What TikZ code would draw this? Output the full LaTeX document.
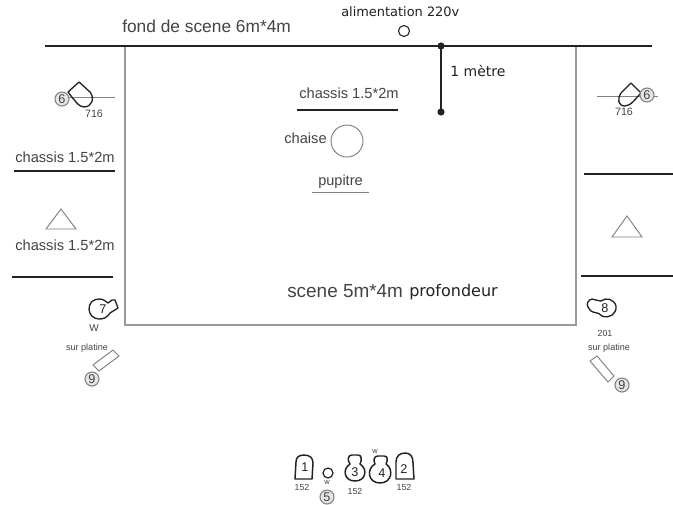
\documentclass[tikz,border=0pt]{standalone}
\usepackage{fontspec}
\setmainfont{Liberation Sans}
\newfontfamily\dejavu{DejaVu Sans}
\definecolor{ink}{HTML}{222222}
\definecolor{soft}{HTML}{444444}
\definecolor{wallgrey}{HTML}{9A9A9A}
\tikzset{
  x=0.75pt,y=-0.75pt,
  label14/.style={inner sep=0pt,text=soft,font=\fontsize{11pt}{13pt}\selectfont},
  labelDV/.style={inner sep=0pt,text=ink,font=\dejavu\fontsize{9.7pt}{11pt}\selectfont},
  tiny/.style={inner sep=0pt,text=soft,font=\fontsize{6.6pt}{7pt}\selectfont},
  sixteen/.style={inner sep=0pt,text=soft,font=\fontsize{8pt}{9pt}\selectfont},
  micro/.style={inner sep=0pt,text=soft,font=\fontsize{6.8pt}{7pt}\selectfont},
  wee/.style={inner sep=0pt,text=soft,font=\fontsize{5.6pt}{6pt}\selectfont},
  num/.style={inner sep=0pt,text=ink,font=\fontsize{9.5pt}{10pt}\selectfont},
  numring/.style={circle,draw=gray,fill=gray!20,line width=0.8pt,minimum size=10.5pt,inner sep=0pt,text=soft,font=\fontsize{9.5pt}{10pt}\selectfont},
  thickbar/.style={draw=ink,line width=1.8pt},
  wall/.style={draw=wallgrey,line width=1.1pt},
  lamp/.style={draw=ink,line width=1pt,line join=round},
  thinline/.style={draw=gray,line width=0.7pt},
  prop/.style={draw=gray,line width=0.7pt,line join=miter},
}
\begin{document}
\begin{tikzpicture}
\useasboundingbox (0,0) rectangle (673,504);
\fill[white] (0,0) rectangle (673,504);
% stage
\draw[wall] (125,46) -- (125,325) -- (576,325) -- (576,46);
\draw[thickbar] (45,46) -- (652,46);
% dimension
\coordinate (dimtop) at (441,46);
\coordinate (dimbot) at (441,112);
\draw[thickbar] (dimtop) -- (dimbot);
\fill[ink] (dimtop) circle (3.6);
\fill[ink] (dimbot) circle (3.6);
\node[labelDV,anchor=west,font=\dejavu\fontsize{10.5pt}{12pt}\selectfont] (unmetre) at (450,71) {1 mètre};
% top texts
\node[label14,anchor=west,font=\fontsize{13pt}{15pt}\selectfont] (fond) at (122,26) {fond de scene 6m*4m};
\node[labelDV,anchor=west] (alim) at (341,12) {alimentation 220v};
\draw[ink,line width=0.8pt] (404,31) circle (5.5);
% centre
\node[label14,anchor=west] (ch0) at (299,93) {chassis 1.5*2m};
\draw[thickbar] (297,110) -- (398,110);
\node[label14,anchor=east] (chaise) at (327,138) {chaise};
\draw[draw=gray,line width=0.7pt] (347,141) circle (16);
\node[label14,anchor=west,font=\fontsize{10.9pt}{12pt}\selectfont] (pupitre) at (318,182) {pupitre};
\draw[thinline] (312,192) -- (369,192);
\node[label14,anchor=west,font=\fontsize{14.2pt}{16pt}\selectfont] (scene) at (287,291) {scene 5m*4m};
\node[labelDV,anchor=west,font=\dejavu\fontsize{12pt}{14pt}\selectfont] (prof) at (409,292) {profondeur};
% left wings
\node[label14,anchor=west] (chl1) at (15,157) {chassis 1.5*2m};
\draw[thickbar] (14,171) -- (115,171);
\draw[prop] (46,229) -- (61,209) -- (76,229) -- cycle;
\node[label14,anchor=west] (chl2) at (15,245) {chassis 1.5*2m};
\draw[thickbar] (12,277) -- (113,277);
% right wings
\draw[thickbar] (584,174) -- (673,174);
\draw[prop] (612,237) -- (627,216) -- (642,237) -- cycle;
\draw[thickbar] (581,276) -- (673,276);
% spot 6 left
\draw[thinline] (55,97) -- (115,97);
\draw[lamp] (68,92) -- (79,82) -- (90,92) .. controls (95,98) and (92,107) .. (84,107) .. controls (79,107) and (75,101) .. (68,92) -- cycle;
\node[numring] (six1) at (62,99) {6};
\node[sixteen] (n716a) at (94,114) {716};
% spot 6 right
\draw[thinline] (597,96) -- (658,96);
\draw[lamp] (641,93) -- (631,83) -- (621,93) .. controls (617,99) and (618,106) .. (625,106) .. controls (631,106) and (636,98) .. (641,93) -- cycle;
\node[numring] (six2) at (647,95) {6};
\node[sixteen] (n716b) at (624,112) {716};
% spot 7
\draw[lamp] (110,313) .. controls (107,318) and (103,319) .. (99,319) .. controls (93,319) and (89,314) .. (89,309) .. controls (89,303) and (93,299) .. (99,299) .. controls (103,299) and (106,301) .. (108,303) -- (112,300) -- (115,300) -- (118,308) -- cycle;
\node[num] (seven) at (103,309) {7};
\node[inner sep=0pt,text=soft,font=\fontsize{7.5pt}{8pt}\selectfont] (w7) at (94,328) {W};
\node[micro] (sp1) at (87,348) {sur platine};
\draw[prop] (113,350) -- (119,356) -- (99,371) -- (93,365) -- cycle;
\node[numring] (nine1) at (92,379) {9};
% spot 8
\draw[lamp] (592,299) .. controls (596,300) and (599,301) .. (601,301) .. controls (606,297) and (614,299) .. (616,306) .. controls (617,314) and (609,319) .. (602,316) .. controls (600,314) and (598,313) .. (597,313) .. controls (591,312) and (589,310) .. (588,307) .. controls (586,304) and (588,300) .. (592,299) -- cycle;
\node[num] (eight) at (605,308) {8};
\node[tiny] (n201) at (605,333) {201};
\node[micro] (sp2) at (609,348) {sur platine};
\draw[prop] (597,356) -- (614,376) -- (608,382) -- (590,361) -- cycle;
\node[numring] (nine2) at (622,385) {9};
% bottom lights
\draw[lamp,line width=1.1pt] (295,479) -- (296,462) .. controls (296,457) and (299,455) .. (304,455) .. controls (310,455) and (313,458) .. (313,463) -- (312,479) -- cycle;
\node[num] (one) at (305,467) {1};
\node[tiny] (n152a) at (302,487) {152};
\draw[draw=ink,line width=0.9pt] (328,473) circle (5);
\node[wee] (w5) at (327,483) {w};
\node[numring] (five) at (327,497) {5};
% 3
\draw[lamp,line width=1.1pt] (350,464) .. controls (347,460) and (348,455) .. (352,455) -- (358,455) .. controls (362,455) and (362,460) .. (360,464) .. controls (368,469) and (366,481) .. (355,481) .. controls (344,481) and (342,469) .. (350,464) -- cycle;
\node[num] (three) at (355,472) {3};
\node[tiny] (n152b) at (355,491) {152};
% 4
\draw[lamp,line width=1.1pt] (375,464) .. controls (373,460) and (374,456) .. (378,456) -- (384,456) .. controls (388,456) and (388,460) .. (386,464) .. controls (394,469) and (392,483) .. (380,483) .. controls (368,483) and (366,469) .. (375,464) -- cycle;
\node[num] (four) at (382,473) {4};
\node[wee] (w4) at (375,452) {w};
% 2
\draw[lamp,line width=1.1pt] (396,479) -- (396,462) .. controls (396,456) and (400,453) .. (405,453) .. controls (410,453) and (413,456) .. (413,463) -- (414,479) -- cycle;
\node[num] (two) at (404,469) {2};
\node[tiny] (n152c) at (404,487) {152};
\end{tikzpicture}
\end{document}
